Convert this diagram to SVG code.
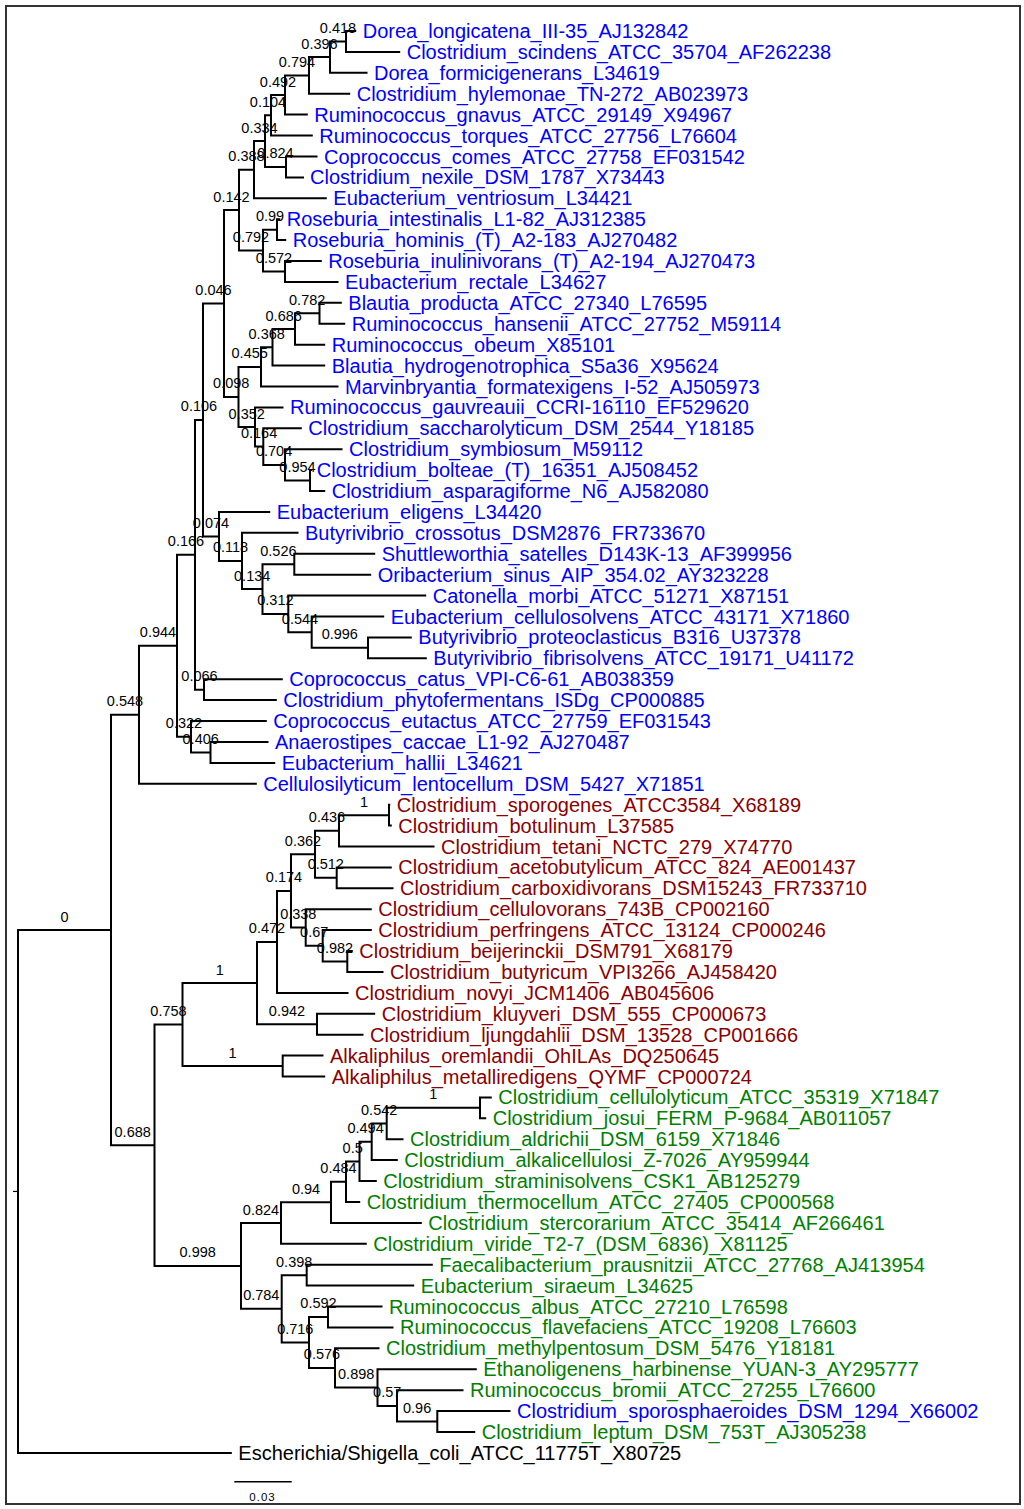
<svg xmlns="http://www.w3.org/2000/svg" width="1024" height="1509" viewBox="0 0 1024 1509">
<style>
.frame{fill:#fff;stroke:#333;stroke-width:2}
.br path{fill:none;stroke:#000;stroke-width:2}
.lf{font-family:"Liberation Sans",Arial,sans-serif;font-size:20px}
.b{fill:#0000ff}.r{fill:#8b0000}.g{fill:#008000}.k{fill:#000}
.bs text{font-family:"Liberation Sans",Arial,sans-serif;font-size:14.5px;text-anchor:middle;fill:#000}
</style>
<rect class="frame" x="6" y="6" width="1014" height="1498"/>
<g id="branches" class="br">
<path d="M356.2,31 H346 V51.9 H400.2"/>
<path d="M346,41.45 H330 V72.8 H367.5"/>
<path d="M330,57.1 H309 V93.7 H350.2"/>
<path d="M309,75.4 H285 V114.6 H307.8"/>
<path d="M285,95 H271 V135.6 H312.8"/>
<path d="M317.5,156.5 H286 V177.4 H304"/>
<path d="M271,115.3 H265 V166.95 H286"/>
<path d="M265,141.1 H254 V198.3 H326.8"/>
<path d="M280.2,219.2 H277 V240.1 H286.2"/>
<path d="M321.8,261 H285 V281.9 H338.5"/>
<path d="M277,229.65 H263 V271.45 H285"/>
<path d="M254,169.7 H239 V250.55 H263"/>
<path d="M341.8,302.8 H319.5 V323.7 H345.2"/>
<path d="M319.5,313.25 H295 V344.7 H325.2"/>
<path d="M295,329 H272.5 V365.6 H325.2"/>
<path d="M272.5,347.3 H261 V386.5 H338.5"/>
<path d="M312,470.1 H310 V491 H325.2"/>
<path d="M342.5,449.2 H285 V480.55 H310"/>
<path d="M301.8,428.3 H263.3 V464.9 H285"/>
<path d="M283.5,407.4 H255 V446.6 H263.3"/>
<path d="M261,366.9 H238.5 V427 H255"/>
<path d="M239,210.1 H224 V396.95 H238.5"/>
<path d="M375.2,553.8 H294.3 V574.7 H371.2"/>
<path d="M411.8,637.4 H368 V658.3 H426.8"/>
<path d="M384.2,616.5 H311.7 V647.85 H368"/>
<path d="M426.2,595.6 H288.3 V632.2 H311.7"/>
<path d="M294.3,564.25 H262.5 V613.9 H288.3"/>
<path d="M298.5,532.8 H242 V589.1 H262.5"/>
<path d="M270.2,511.9 H219 V560.95 H242"/>
<path d="M224,303.5 H203 V536.4 H219"/>
<path d="M282.8,679.2 H204 V700.1 H276.8"/>
<path d="M203,419.95 H195 V689.65 H204"/>
<path d="M268.5,741.9 H210.5 V762.9 H275.2"/>
<path d="M266.8,721 H191 V752.4 H210.5"/>
<path d="M195,554.8 H177 V736.7 H191"/>
<path d="M177,645.75 H139 V783.8 H256.8"/>
<path d="M390.2,804.7 H389 V825.6 H391.8"/>
<path d="M389,815.15 H339 V846.5 H434.5"/>
<path d="M391.8,867.4 H336.7 V888.3 H393.5"/>
<path d="M339,830.8 H315 V877.85 H336.7"/>
<path d="M352.8,951 H347.3 V972 H383.5"/>
<path d="M371.8,930.1 H322.7 V961.5 H347.3"/>
<path d="M371.8,909.2 H305.7 V945.8 H322.7"/>
<path d="M315,854.3 H291 V927.5 H305.7"/>
<path d="M291,890.9 H277 V992.9 H348.5"/>
<path d="M375.2,1013.8 H317 V1034.7 H363.5"/>
<path d="M277,941.9 H257 V1024.25 H317"/>
<path d="M323.5,1055.6 H282.7 V1076.5 H325.2"/>
<path d="M257,983.1 H182.5 V1066.05 H282.7"/>
<path d="M491.8,1097.4 H480 V1118.3 H486.2"/>
<path d="M480,1107.85 H386.7 V1139.2 H403.5"/>
<path d="M386.7,1123.5 H371.7 V1160.1 H397.8"/>
<path d="M371.7,1141.8 H359.5 V1181.1 H376.8"/>
<path d="M359.5,1161.45 H346 V1202 H360.2"/>
<path d="M346,1181.7 H331 V1222.9 H421.8"/>
<path d="M331,1202.3 H281 V1243.8 H366.8"/>
<path d="M432.8,1264.7 H306.7 V1285.6 H414.2"/>
<path d="M382.5,1306.5 H328 V1327.4 H393.5"/>
<path d="M510.5,1411.1 H437.3 V1432 H475.2"/>
<path d="M463.5,1390.2 H397 V1421.55 H437.3"/>
<path d="M476.8,1369.2 H377.5 V1405.9 H397"/>
<path d="M379.5,1348.3 H335 V1387.55 H377.5"/>
<path d="M328,1316.95 H309 V1367.9 H335"/>
<path d="M306.7,1275.15 H281.7 V1342.4 H309"/>
<path d="M281,1223.05 H241 V1308.8 H281.7"/>
<path d="M182.5,1024.6 H154.5 V1265.9 H241"/>
<path d="M139,714.8 H111 V1145.25 H154.5"/>
<path d="M111,930 H18 V1452.9 H231.8"/>
<path d="M13,1191.45 H18" style="stroke-width:1.2"/>
</g>
<g id="support" class="bs">
<text x="338" y="32.9">0.418</text>
<text x="319.5" y="48.6">0.396</text>
<text x="297" y="66.9">0.794</text>
<text x="278" y="86.5">0.492</text>
<text x="268" y="106.8">0.104</text>
<text x="275.5" y="158.4">0.824</text>
<text x="259.5" y="132.6">0.334</text>
<text x="246.5" y="161.2">0.388</text>
<text x="231.5" y="201.6">0.142</text>
<text x="270" y="221.1">0.99</text>
<text x="274" y="262.9">0.572</text>
<text x="251" y="242">0.792</text>
<text x="213.5" y="295">0.046</text>
<text x="307.2" y="304.7">0.782</text>
<text x="283.7" y="320.5">0.686</text>
<text x="266.7" y="338.8">0.368</text>
<text x="249.7" y="358.4">0.455</text>
<text x="231.2" y="388.4">0.098</text>
<text x="246.7" y="418.5">0.352</text>
<text x="259.1" y="438.1">0.164</text>
<text x="274.1" y="456.4">0.704</text>
<text x="297.5" y="472">0.954</text>
<text x="199" y="411.4">0.106</text>
<text x="211" y="527.9">0.074</text>
<text x="230.5" y="552.4">0.118</text>
<text x="252.2" y="580.6">0.134</text>
<text x="278.4" y="555.7">0.526</text>
<text x="275.4" y="605.4">0.312</text>
<text x="300" y="623.7">0.544</text>
<text x="339.8" y="639.3">0.996</text>
<text x="186" y="546.3">0.166</text>
<text x="199.5" y="681.1">0.066</text>
<text x="158" y="637.2">0.944</text>
<text x="184" y="728.2">0.322</text>
<text x="200.7" y="743.9">0.406</text>
<text x="125" y="706.3">0.548</text>
<text x="64.5" y="921.5">0</text>
<text x="132.7" y="1136.7">0.688</text>
<text x="168.5" y="1016.1">0.758</text>
<text x="219.7" y="974.6">1</text>
<text x="232.6" y="1057.5">1</text>
<text x="267" y="933.4">0.472</text>
<text x="287" y="1015.7">0.942</text>
<text x="284" y="882.4">0.174</text>
<text x="303" y="845.8">0.362</text>
<text x="298.3" y="919">0.338</text>
<text x="327" y="822.3">0.436</text>
<text x="325.8" y="869.3">0.512</text>
<text x="364" y="806.6">1</text>
<text x="314.2" y="937.3">0.67</text>
<text x="335" y="953">0.982</text>
<text x="197.7" y="1257.4">0.998</text>
<text x="261" y="1214.5">0.824</text>
<text x="306" y="1193.8">0.94</text>
<text x="338.5" y="1173.2">0.484</text>
<text x="352.7" y="1152.9">0.5</text>
<text x="365.6" y="1133.3">0.494</text>
<text x="379.2" y="1115">0.542</text>
<text x="433.3" y="1099.3">1</text>
<text x="261.3" y="1300.3">0.784</text>
<text x="294.2" y="1266.6">0.398</text>
<text x="295.3" y="1333.9">0.716</text>
<text x="318.5" y="1308.4">0.592</text>
<text x="322" y="1359.4">0.576</text>
<text x="356.2" y="1379">0.898</text>
<text x="387.2" y="1397.4">0.57</text>
<text x="417.1" y="1413">0.96</text>
</g>
<g id="leaves" class="lf">
<g id="L0"><text class="b" x="362.7" y="38">Dorea_longicatena_III-35_AJ132842</text></g>
<g id="L1"><text class="b" x="406.7" y="58.9">Clostridium_scindens_ATCC_35704_AF262238</text></g>
<g id="L2"><text class="b" x="374" y="79.8">Dorea_formicigenerans_L34619</text></g>
<g id="L3"><text class="b" x="356.7" y="100.7">Clostridium_hylemonae_TN-272_AB023973</text></g>
<g id="L4"><text class="b" x="314.3" y="121.6">Ruminococcus_gnavus_ATCC_29149_X94967</text></g>
<g id="L5"><text class="b" x="319.3" y="142.6">Ruminococcus_torques_ATCC_27756_L76604</text></g>
<g id="L6"><text class="b" x="324" y="163.5">Coprococcus_comes_ATCC_27758_EF031542</text></g>
<g id="L7"><text class="b" x="310" y="184.4">Clostridium_nexile_DSM_1787_X73443</text></g>
<g id="L8"><text class="b" x="333.3" y="205.3">Eubacterium_ventriosum_L34421</text></g>
<g id="L9"><text class="b" x="286.7" y="226.2">Roseburia_intestinalis_L1-82_AJ312385</text></g>
<g id="L10"><text class="b" x="292.7" y="247.1">Roseburia_hominis_(T)_A2-183_AJ270482</text></g>
<g id="L11"><text class="b" x="328.3" y="268">Roseburia_inulinivorans_(T)_A2-194_AJ270473</text></g>
<g id="L12"><text class="b" x="345" y="288.9">Eubacterium_rectale_L34627</text></g>
<g id="L13"><text class="b" x="348.3" y="309.8">Blautia_producta_ATCC_27340_L76595</text></g>
<g id="L14"><text class="b" x="351.7" y="330.7">Ruminococcus_hansenii_ATCC_27752_M59114</text></g>
<g id="L15"><text class="b" x="331.7" y="351.7">Ruminococcus_obeum_X85101</text></g>
<g id="L16"><text class="b" x="331.7" y="372.6">Blautia_hydrogenotrophica_S5a36_X95624</text></g>
<g id="L17"><text class="b" x="345" y="393.5">Marvinbryantia_formatexigens_I-52_AJ505973</text></g>
<g id="L18"><text class="b" x="290" y="414.4">Ruminococcus_gauvreauii_CCRI-16110_EF529620</text></g>
<g id="L19"><text class="b" x="308.3" y="435.3">Clostridium_saccharolyticum_DSM_2544_Y18185</text></g>
<g id="L20"><text class="b" x="349" y="456.2">Clostridium_symbiosum_M59112</text></g>
<g id="L21"><text class="b" x="316.7" y="477.1">Clostridium_bolteae_(T)_16351_AJ508452</text></g>
<g id="L22"><text class="b" x="331.7" y="498">Clostridium_asparagiforme_N6_AJ582080</text></g>
<g id="L23"><text class="b" x="276.7" y="518.9">Eubacterium_eligens_L34420</text></g>
<g id="L24"><text class="b" x="305" y="539.8">Butyrivibrio_crossotus_DSM2876_FR733670</text></g>
<g id="L25"><text class="b" x="381.7" y="560.8">Shuttleworthia_satelles_D143K-13_AF399956</text></g>
<g id="L26"><text class="b" x="377.7" y="581.7">Oribacterium_sinus_AIP_354.02_AY323228</text></g>
<g id="L27"><text class="b" x="432.7" y="602.6">Catonella_morbi_ATCC_51271_X87151</text></g>
<g id="L28"><text class="b" x="390.7" y="623.5">Eubacterium_cellulosolvens_ATCC_43171_X71860</text></g>
<g id="L29"><text class="b" x="418.3" y="644.4">Butyrivibrio_proteoclasticus_B316_U37378</text></g>
<g id="L30"><text class="b" x="433.3" y="665.3">Butyrivibrio_fibrisolvens_ATCC_19171_U41172</text></g>
<g id="L31"><text class="b" x="289.3" y="686.2">Coprococcus_catus_VPI-C6-61_AB038359</text></g>
<g id="L32"><text class="b" x="283.3" y="707.1">Clostridium_phytofermentans_ISDg_CP000885</text></g>
<g id="L33"><text class="b" x="273.3" y="728">Coprococcus_eutactus_ATCC_27759_EF031543</text></g>
<g id="L34"><text class="b" x="275" y="748.9">Anaerostipes_caccae_L1-92_AJ270487</text></g>
<g id="L35"><text class="b" x="281.7" y="769.9">Eubacterium_hallii_L34621</text></g>
<g id="L36"><text class="b" x="263.3" y="790.8">Cellulosilyticum_lentocellum_DSM_5427_X71851</text></g>
<g id="L37"><text class="r" x="396.7" y="811.7">Clostridium_sporogenes_ATCC3584_X68189</text></g>
<g id="L38"><text class="r" x="398.3" y="832.6">Clostridium_botulinum_L37585</text></g>
<g id="L39"><text class="r" x="441" y="853.5">Clostridium_tetani_NCTC_279_X74770</text></g>
<g id="L40"><text class="r" x="398.3" y="874.4">Clostridium_acetobutylicum_ATCC_824_AE001437</text></g>
<g id="L41"><text class="r" x="400" y="895.3">Clostridium_carboxidivorans_DSM15243_FR733710</text></g>
<g id="L42"><text class="r" x="378.3" y="916.2">Clostridium_cellulovorans_743B_CP002160</text></g>
<g id="L43"><text class="r" x="378.3" y="937.1">Clostridium_perfringens_ATCC_13124_CP000246</text></g>
<g id="L44"><text class="r" x="359.3" y="958">Clostridium_beijerinckii_DSM791_X68179</text></g>
<g id="L45"><text class="r" x="390" y="979">Clostridium_butyricum_VPI3266_AJ458420</text></g>
<g id="L46"><text class="r" x="355" y="999.9">Clostridium_novyi_JCM1406_AB045606</text></g>
<g id="L47"><text class="r" x="381.7" y="1020.8">Clostridium_kluyveri_DSM_555_CP000673</text></g>
<g id="L48"><text class="r" x="370" y="1041.7">Clostridium_ljungdahlii_DSM_13528_CP001666</text></g>
<g id="L49"><text class="r" x="330" y="1062.6">Alkaliphilus_oremlandii_OhILAs_DQ250645</text></g>
<g id="L50"><text class="r" x="331.7" y="1083.5">Alkaliphilus_metalliredigens_QYMF_CP000724</text></g>
<g id="L51"><text class="g" x="498.3" y="1104.4">Clostridium_cellulolyticum_ATCC_35319_X71847</text></g>
<g id="L52"><text class="g" x="492.7" y="1125.3">Clostridium_josui_FERM_P-9684_AB011057</text></g>
<g id="L53"><text class="g" x="410" y="1146.2">Clostridium_aldrichii_DSM_6159_X71846</text></g>
<g id="L54"><text class="g" x="404.3" y="1167.1">Clostridium_alkalicellulosi_Z-7026_AY959944</text></g>
<g id="L55"><text class="g" x="383.3" y="1188.1">Clostridium_straminisolvens_CSK1_AB125279</text></g>
<g id="L56"><text class="g" x="366.7" y="1209">Clostridium_thermocellum_ATCC_27405_CP000568</text></g>
<g id="L57"><text class="g" x="428.3" y="1229.9">Clostridium_stercorarium_ATCC_35414_AF266461</text></g>
<g id="L58"><text class="g" x="373.3" y="1250.8">Clostridium_viride_T2-7_(DSM_6836)_X81125</text></g>
<g id="L59"><text class="g" x="439.3" y="1271.7">Faecalibacterium_prausnitzii_ATCC_27768_AJ413954</text></g>
<g id="L60"><text class="g" x="420.7" y="1292.6">Eubacterium_siraeum_L34625</text></g>
<g id="L61"><text class="g" x="389" y="1313.5">Ruminococcus_albus_ATCC_27210_L76598</text></g>
<g id="L62"><text class="g" x="400" y="1334.4">Ruminococcus_flavefaciens_ATCC_19208_L76603</text></g>
<g id="L63"><text class="g" x="386" y="1355.3">Clostridium_methylpentosum_DSM_5476_Y18181</text></g>
<g id="L64"><text class="g" x="483.3" y="1376.2">Ethanoligenens_harbinense_YUAN-3_AY295777</text></g>
<g id="L65"><text class="g" x="470" y="1397.2">Ruminococcus_bromii_ATCC_27255_L76600</text></g>
<g id="L66"><text class="b" x="517" y="1418.1">Clostridium_sporosphaeroides_DSM_1294_X66002</text></g>
<g id="L67"><text class="g" x="481.7" y="1439">Clostridium_leptum_DSM_753T_AJ305238</text></g>
<g id="L68"><text class="k" x="238.3" y="1459.9">Escherichia/Shigella_coli_ATCC_11775T_X80725</text></g>
</g>
<g id="scale">
<path d="M234.3,1481.7 H291.7" stroke="#000" stroke-width="1.5"/>
<text x="262.5" y="1501" font-family="'Liberation Sans',Arial,sans-serif" font-size="11.5" letter-spacing="1" text-anchor="middle">0.03</text>
</g>
</svg>
